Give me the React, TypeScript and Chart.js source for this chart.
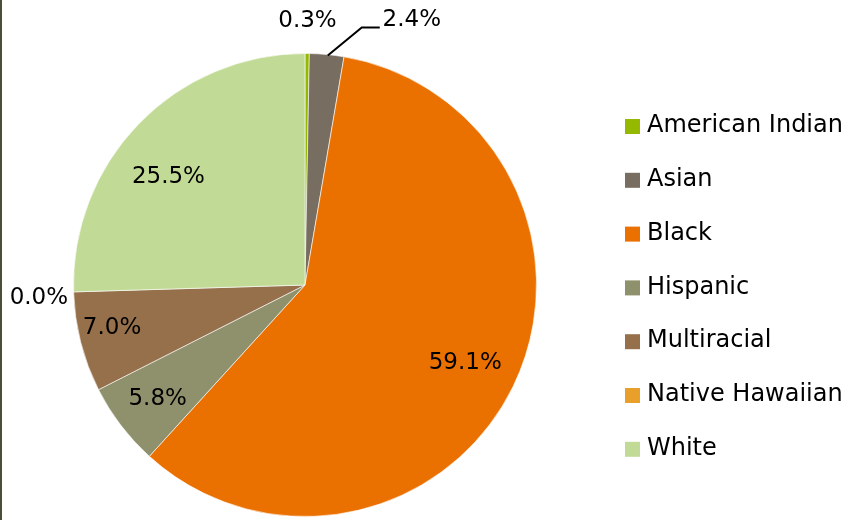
import React, { useEffect, useRef } from "react";
import { Chart, registerables } from "chart.js";

Chart.register(...registerables);

const categories = ["American Indian", "Asian", "Black", "Hispanic", "Multiracial", "Native Hawaiian", "White"];
const values = [0.3, 2.4, 59.1, 5.8, 7.0, 0.0, 25.5];
const labelsText = ["0.3%", "2.4%", "59.1%", "5.8%", "7.0%", "0.0%", "25.5%"];
const colors = ["#95B800", "#776D60", "#EA7000", "#8F906C", "#96704B", "#E8A02A", "#C1DA96"];

const FONT_FAMILY = "'DejaVu Sans', sans-serif";
const LABEL_SIZE = 23;
const LEGEND_SIZE = 24;

// per-label placement: radial factor of outer radius, plus pixel nudges
const labelPlacement = [
  { f: 1.14, dx: 0, dy: 0 },
  { f: 1.0, dx: 85, dy: -34, leader: true },
  { f: 0.77, dx: 0, dy: 0 },
  { f: 0.8, dx: 0, dy: 2 },
  { f: 0.86, dx: 0, dy: -6 },
  { f: 1.15, dx: 0, dy: 5 },
  { f: 0.75, dx: -12, dy: 13 },
];

const labelPlugin = {
  id: "customLabels",
  afterDatasetsDraw(chart: any) {
    const ctx = chart.ctx;
    const meta = chart.getDatasetMeta(0);
    ctx.save();
    ctx.font = `${LABEL_SIZE}px ${FONT_FAMILY}`;
    ctx.fillStyle = "#000";
    ctx.textAlign = "center";
    ctx.textBaseline = "middle";
    meta.data.forEach((arc: any, i: number) => {
      const p = arc.getProps(["x", "y", "startAngle", "endAngle", "outerRadius"], true);
      const mid = (p.startAngle + p.endAngle) / 2;
      const pl = labelPlacement[i];
      const r = p.outerRadius * pl.f;
      const ax = p.x + Math.cos(mid) * r;
      const ay = p.y + Math.sin(mid) * r;
      if (pl.leader) {
        ctx.strokeStyle = "#000";
        ctx.lineWidth = 2;
        ctx.beginPath();
        ctx.moveTo(ax + 1, ay + 1);
        ctx.lineTo(ax + 35, ay - 27);
        ctx.lineTo(ax + 53, ay - 27);
        ctx.stroke();
      }
      ctx.fillText(labelsText[i], ax + pl.dx, ay + pl.dy);
    });
    ctx.restore();
  },
};

const legendPlugin = {
  id: "customLegend",
  afterDraw(chart: any) {
    const ctx = chart.ctx;
    ctx.save();
    ctx.font = `${LEGEND_SIZE}px ${FONT_FAMILY}`;
    ctx.textAlign = "left";
    ctx.textBaseline = "middle";
    categories.forEach((c, i) => {
      const y = 126 + i * 53.8;
      ctx.fillStyle = colors[i];
      ctx.fillRect(625, y - 7, 15, 15);
      ctx.fillStyle = "#000";
      ctx.fillText(c, 647, y);
    });
    ctx.restore();
  },
};

export default function App() {
  const ref = useRef<HTMLCanvasElement>(null);
  useEffect(() => {
    if (!ref.current) return;
    const chart = new Chart(ref.current, {
      type: "pie",
      data: {
        labels: categories,
        datasets: [
          {
            data: values,
            backgroundColor: colors,
            borderColor: "rgba(255,255,255,0.6)",
            borderWidth: 1,
          },
        ],
      },
      options: {
        responsive: false,
        animation: false,
        devicePixelRatio: 1,
        layout: { padding: { left: 73, top: 53, right: 328, bottom: 3 } },
        plugins: { legend: { display: false }, tooltip: { enabled: false } },
      },
      plugins: [labelPlugin, legendPlugin],
    });
    return () => chart.destroy();
  }, []);
  return (
    <div
      style={{
        position: "fixed",
        left: 0,
        top: 0,
        width: 865,
        height: 520,
        background: "#fff",
        overflow: "hidden",
      }}
    >
      <div style={{ position: "absolute", left: 0, top: 0, width: 2, height: 520, background: "#4A4F38" }} />
      <canvas ref={ref} width={865} height={520} style={{ position: "absolute", left: 0, top: 0 }} />
    </div>
  );
}
